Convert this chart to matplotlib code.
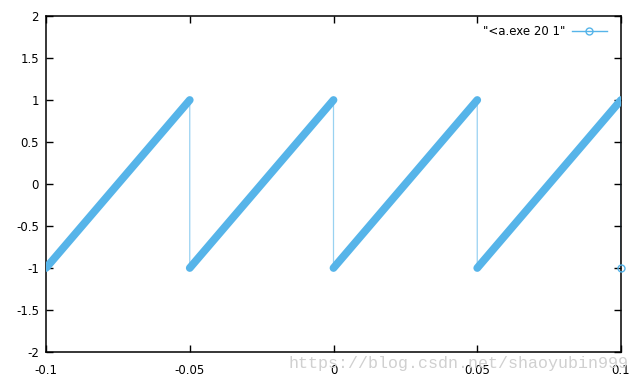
import matplotlib
matplotlib.use("Agg")
import matplotlib.pyplot as plt

# sawtooth vertices
ramp_x0 = [-0.1, -0.05, 0.0, 0.05]
ramp_x1 = [-0.05, 0.0, 0.05, 0.1]
ramp_y0 = [-1, -1, -1, -1]
ramp_y1 = [1, 1, 1, 1]
last_x = [0.1]
last_y = [-1]

xticks = [-0.1, -0.05, 0, 0.05, 0.1]
xticklabels = ["-0.1", "-0.05", "0", "0.05", "0.1"]
yticks = [-2, -1.5, -1, -0.5, 0, 0.5, 1, 1.5, 2]
yticklabels = ["-2", "-1.5", "-1", "-0.5", "0", "0.5", "1", "1.5", "2"]

color = "#56b4e9"

fig = plt.figure(figsize=(6.4, 3.84), dpi=100)
ax = fig.add_axes([46/640, 32/384, 575/640, 336/384])

# full polyline (thin connecting line)
px, py = [], []
for a, b, c, d in zip(ramp_x0, ramp_x1, ramp_y0, ramp_y1):
    px += [a, b]
    py += [c, d]
px += last_x
py += last_y
ax.plot(px, py, color=color, lw=0.9, alpha=0.6, zorder=2)

# dense sample points appear as thick ramps
for a, b, c, d in zip(ramp_x0, ramp_x1, ramp_y0, ramp_y1):
    ax.plot([a, b], [c, d], color=color, lw=5.6, solid_capstyle="round", zorder=3)

ax.plot(last_x, last_y, 'o', mfc="none", mec=color, ms=5, mew=1, zorder=4, clip_on=False)

ax.set_xlim(-0.1, 0.1)
ax.set_ylim(-2, 2)
ax.set_xticks(xticks)
ax.set_xticklabels(xticklabels)
ax.set_yticks(yticks)
ax.set_yticklabels(yticklabels)
ax.tick_params(direction="in", length=5, width=1, top=True, right=True,
               labelsize=8.5, colors="black")
ax.tick_params(axis="x", pad=9)
ax.tick_params(axis="y", pad=5)
for s in ax.spines.values():
    s.set_linewidth(1.1)

# legend
ax.text(0.904, 0.955, '"<a.exe 20 1"', transform=ax.transAxes, ha="right",
        va="center", fontsize=8.5)
lx0, lx1 = 0.915, 0.975
ax.plot([lx0, lx1], [0.955, 0.955], transform=ax.transAxes, color=color, lw=1.0)
ax.plot([(lx0 + lx1) / 2], [0.955], 'o', transform=ax.transAxes, mfc="none",
        mec=color, ms=5, mew=1)

# watermark
fig.text(628/640, (384-368)/384, "https://blog.csdn.net/shaoyubin999",
         ha="right", va="baseline", fontsize=12, family="Liberation Mono",
         color="#d0d0d0", zorder=0)

fig.savefig("out.png", dpi=100)
